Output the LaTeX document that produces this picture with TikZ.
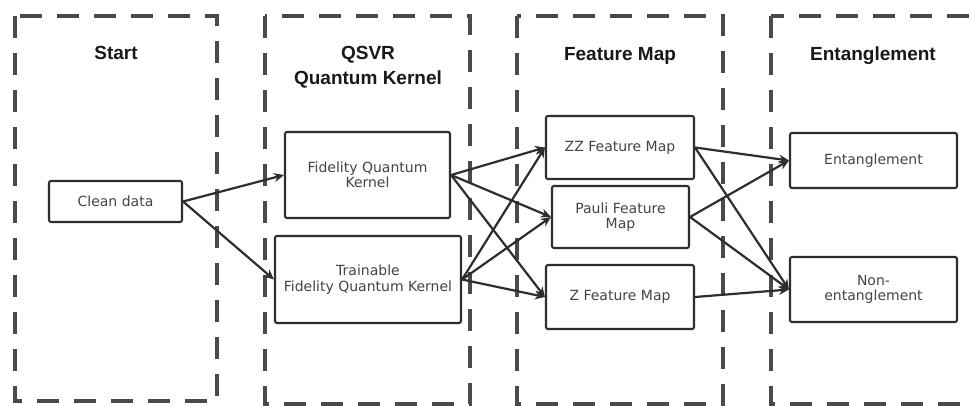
\documentclass[tikz,border=0pt]{standalone}
\usepackage{fontspec}
\setmainfont{Liberation Sans}
\newfontfamily\boxfont{DejaVu Sans}
\usetikzlibrary{arrows.meta}
\definecolor{linegray}{HTML}{2E2E2E}
\definecolor{framegray}{HTML}{4A4A4A}
\definecolor{textgray}{HTML}{444444}
\begin{document}
\begin{tikzpicture}[x=1pt,y=-1pt,
  frame/.style={draw=framegray,line width=3.4pt,dash pattern=on 22pt off 15pt},
  title/.style={anchor=base,font=\fontsize{19}{22}\selectfont\bfseries,text=black!90,inner sep=0pt},
  box/.style={draw=linegray,line width=2.1pt,rounded corners=2pt,fill=white,align=center,
    inner sep=0pt,text=textgray,font=\boxfont\fontsize{14}{15.5}\selectfont},
  arr/.style={draw=linegray,line width=2.2pt,-{Stealth[length=10pt,width=9pt]}}]
\useasboundingbox (0,0) rectangle (970,405);
\clip (0,0) rectangle (970,405);
\fill[white] (0,0) rectangle (970,405);
% frames
\draw[frame] (15,16) rectangle (217,401);
\draw[frame] (265,16) rectangle (470,404);
\draw[frame] (517,16) rectangle (723,404);
\draw[frame] (771,16) rectangle (1000,404);
% titles
\node[title] (tstart) at (116,59) {Start};
\node[title] (tqsvr) at (368,59) {QSVR};
\node[title] (tqk) at (368,84) {Quantum Kernel};
\node[title] (tfm) at (620,60) {Feature Map};
\node[title] (tent) at (873,60) {Entanglement};
% boxes
\node[box,minimum width=133pt,minimum height=41pt] (clean) at (115.5,201.5) {Clean data};
\node[box,minimum width=165pt,minimum height=86pt] (fqk) at (367.5,175) {Fidelity Quantum\\Kernel};
\node[box,minimum width=186pt,minimum height=87pt] (tfqk) at (368,279.5) {Trainable\\Fidelity Quantum Kernel};
\node[box,minimum width=148pt,minimum height=63pt] (zz) at (620,147.5) {ZZ Feature Map};
\node[box,minimum width=137pt,minimum height=62pt] (pauli) at (620.5,217) {Pauli Feature\\Map};
\node[box,minimum width=148pt,minimum height=64pt] (zf) at (620,297) {Z Feature Map};
\node[box,minimum width=167pt,minimum height=55pt] (ent) at (873.5,160.5) {Entanglement};
\node[box,minimum width=167pt,minimum height=65pt] (nonent) at (873.5,289.5) {Non-\\entanglement};
% connectors
\draw[arr] (clean.east) -- (fqk.west);
\draw[arr] (clean.east) -- (tfqk.west);
\foreach \s in {fqk,tfqk}{
  \draw[arr] (\s.east) -- (zz.west);
  \draw[arr] (\s.east) -- (pauli.west);
  \draw[arr] (\s.east) -- (zf.west);
}
\draw[arr] (zz.east) -- (ent.west);
\draw[arr] (zz.east) -- (nonent.west);
\draw[arr] (pauli.east) -- (ent.west);
\draw[arr] (pauli.east) -- (nonent.west);
\draw[arr] (zf.east) -- (nonent.west);
\end{tikzpicture}
\end{document}
